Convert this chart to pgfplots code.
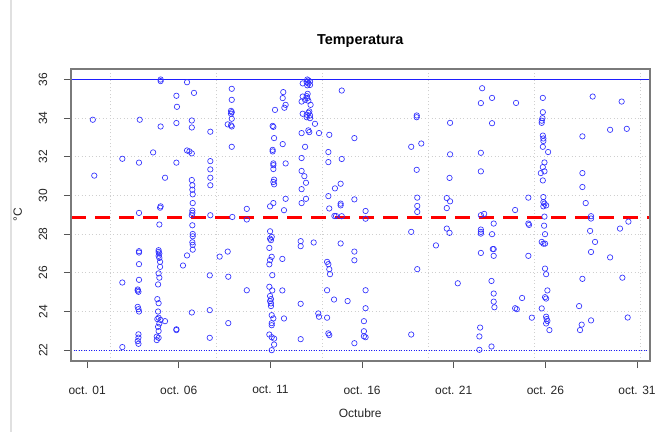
\documentclass[border=0pt]{standalone}
\usepackage{pgfplots}
\pgfplotsset{compat=1.18}
\usepackage{fontspec}
\setmainfont{Liberation Sans}
\definecolor{boxgray}{HTML}{7A7A7A}
\definecolor{tickgray}{HTML}{555555}
\definecolor{gridgray}{HTML}{CFCFCF}
\definecolor{ptblue}{HTML}{3030FF}
\definecolor{lineblue}{HTML}{1E1EFF}

\pgfplotstableread{
x y
1.31 33.92
1.39 31.03
2.92 31.90
2.92 25.50
2.92 22.16
3.87 33.92
3.83 31.70
3.83 29.10
3.83 27.12
3.83 27.05
3.83 26.45
3.83 25.64
3.76 25.14
3.80 25.02
3.76 25.08
3.76 24.24
3.80 24.12
3.83 24.00
3.80 22.82
3.80 22.65
3.76 22.47
3.80 22.33
4.60 32.23
5.01 36.00
5.01 35.92
5.01 33.57
5.25 30.92
5.01 29.44
4.98 29.37
4.94 28.50
4.90 27.17
4.90 27.08
4.94 27.00
4.90 26.88
4.94 26.77
4.98 26.57
4.98 26.31
4.90 25.97
4.94 25.75
4.87 25.40
4.83 24.64
4.90 24.43
4.87 24.00
4.90 23.68
4.83 23.61
5.01 23.56
4.94 23.38
5.25 23.50
4.87 23.21
4.90 22.99
4.80 22.70
4.90 22.64
4.80 22.52
5.87 35.16
5.90 34.59
5.87 33.75
5.87 31.70
5.87 23.08
5.87 23.04
6.45 35.86
6.83 35.31
6.45 32.33
6.58 32.28
6.71 32.18
6.71 33.88
6.71 33.52
6.71 30.80
6.74 30.53
6.74 30.30
6.76 30.06
6.76 29.61
6.74 29.22
6.74 29.10
6.71 28.98
6.74 28.46
6.76 28.01
6.76 27.89
6.74 27.58
6.76 27.45
6.76 27.20
6.45 26.90
6.23 26.38
6.71 23.95
7.72 33.30
7.72 31.78
7.72 31.35
7.72 30.92
7.72 30.53
7.72 28.98
7.69 25.87
7.69 24.07
7.69 22.64
8.23 26.84
8.89 35.52
8.89 34.95
8.85 34.38
8.89 34.31
8.85 34.23
8.89 33.97
8.67 33.68
8.85 33.63
8.89 33.57
8.89 32.52
8.67 27.10
8.70 25.80
8.70 23.40
8.92 28.89
9.71 29.31
9.71 28.76
9.71 25.10
11.25 34.43
11.12 33.60
11.16 33.55
11.20 32.97
11.12 32.36
11.12 32.28
11.16 31.66
11.16 31.57
11.16 31.37
11.20 30.82
11.16 30.70
11.20 30.58
11.16 29.61
10.98 29.44
10.98 28.15
11.07 27.86
10.98 27.77
11.03 27.69
10.94 27.29
11.07 26.83
10.98 26.66
10.94 26.44
11.10 25.88
10.94 25.28
11.10 25.09
10.98 24.80
11.03 24.64
10.98 24.54
11.03 24.42
11.03 24.28
11.07 23.81
11.16 23.64
11.07 23.40
11.07 23.29
10.94 22.81
11.07 22.67
11.20 22.60
11.20 22.29
11.07 22.00
11.70 35.35
11.67 35.04
11.83 34.69
11.76 34.54
11.67 32.66
11.83 31.66
11.83 29.83
11.74 29.24
11.65 26.72
11.65 25.09
11.74 23.64
13.01 36.00
13.07 35.95
12.98 35.86
13.16 35.90
13.07 35.80
12.76 35.80
13.01 35.70
13.16 35.72
13.03 35.26
12.98 35.14
12.76 35.12
13.01 35.04
12.89 34.95
12.70 34.86
13.07 34.90
13.19 34.69
13.12 34.35
13.07 34.28
12.76 34.23
12.98 34.18
13.16 34.14
12.98 34.05
13.16 34.00
13.43 33.71
13.07 33.37
13.12 33.28
12.70 33.23
13.65 33.23
12.89 32.52
12.70 31.94
12.70 31.27
12.85 31.00
12.94 30.66
12.70 30.33
12.94 29.83
12.70 29.61
12.65 27.64
12.65 27.38
13.36 27.57
12.65 24.40
12.65 22.57
14.21 33.14
14.16 32.25
14.16 31.73
14.52 30.37
14.16 29.97
14.21 29.33
14.49 28.94
14.58 28.94
14.09 26.57
14.16 26.45
14.21 26.19
14.25 25.93
14.09 25.10
14.47 24.62
13.61 23.90
13.65 23.73
14.09 23.68
14.16 22.87
14.21 22.78
14.89 35.43
14.89 31.89
14.83 30.61
14.83 29.58
14.83 29.49
14.89 28.93
14.83 27.52
15.21 24.54
15.58 32.97
15.58 29.80
15.58 27.10
15.58 26.65
15.58 22.36
16.19 29.20
16.19 28.80
16.19 25.10
16.19 24.17
16.10 23.50
16.10 22.98
16.10 22.72
16.19 22.67
18.98 34.14
18.98 34.05
18.68 32.52
19.23 32.69
18.98 31.33
19.01 29.89
19.01 29.46
19.01 29.15
18.68 28.12
19.01 26.19
18.68 22.81
20.03 27.42
20.80 33.76
20.80 32.13
20.77 30.91
20.62 29.87
20.80 29.70
20.62 29.35
20.62 28.29
20.77 28.07
21.22 25.46
22.55 35.55
22.48 34.78
22.48 32.21
22.48 31.25
22.48 28.98
22.66 29.05
22.48 28.24
22.48 28.12
22.48 28.03
22.48 27.03
22.44 23.17
22.40 22.71
22.40 22.02
23.09 35.05
23.09 33.74
23.18 28.55
23.09 28.00
23.13 27.23
23.18 27.23
23.18 26.88
23.06 25.58
23.18 24.93
23.18 24.51
23.22 24.22
23.06 22.19
24.40 34.79
24.35 29.25
24.73 24.70
24.35 24.17
24.44 24.12
25.07 29.89
25.07 28.55
25.11 28.48
25.07 26.88
25.26 23.68
25.86 35.05
25.86 34.31
25.84 34.00
25.80 33.87
25.80 33.76
25.86 33.10
25.89 32.95
25.89 32.82
25.86 32.52
26.15 32.25
25.95 31.71
25.86 31.47
25.95 31.25
25.75 31.16
25.86 30.78
25.89 29.92
25.89 29.66
25.95 29.58
26.04 29.49
25.89 29.44
25.95 28.91
25.93 28.44
25.98 28.00
25.80 27.60
25.89 27.51
25.98 27.51
25.98 26.22
26.04 25.93
26.11 25.09
25.98 24.74
26.04 24.67
25.80 24.16
26.04 23.73
26.07 23.61
26.11 23.51
26.04 23.38
26.22 23.04
28.02 33.06
28.02 31.16
28.02 30.44
28.20 29.61
28.49 28.93
28.49 28.81
28.44 28.17
28.71 27.60
28.49 27.08
28.02 25.69
27.84 24.28
27.98 23.32
27.89 23.04
28.49 23.54
28.58 35.12
30.16 34.86
29.53 33.40
30.44 33.45
30.53 28.65
30.07 28.29
29.53 26.80
30.20 25.75
30.49 23.69
}\temps

\begin{document}
\begin{tikzpicture}
\path[use as bounding box] (-71bp,-71bp) rectangle (600bp,361bp);
\fill[white] (-71bp,-71bp) rectangle (600bp,361bp);
\draw[black!12, line width=2.5bp] (-60bp,-71bp) -- (-60bp,361bp);
\begin{axis}[
  at={(0,0)}, anchor=south west,
  scale only axis, width=578.5bp, height=292.3bp,
  xmin=0.12, xmax=31.68, ymin=21.44, ymax=36.56,
  xtick={1,6,11,16,21,26,31},
  xticklabels={oct. 01,oct. 06,oct. 11,oct. 16,oct. 21,oct. 26,oct. 31},
  ytick={22,24,26,28,30,32,34,36},
  yticklabels={22,24,26,28,30,32,34,36},
  ymajorgrids,
  grid style={gridgray, dash pattern=on 1bp off 2.5bp, line width=0.8bp},
  extra x ticks={2.26,8.05,13.83,19.62,25.40,31.19},
  extra x tick labels={},
  extra x tick style={grid=major, major tick length=0pt},
  xtick pos=left, ytick pos=left,
  tick align=outside, major tick length=7.2bp,
  tick label style={font=\fontsize{12bp}{14bp}\selectfont, text=black!85},
  yticklabel style={rotate=90, anchor=south},
  xticklabel style={anchor=north},
  xticklabel shift=14bp, yticklabel shift=13bp,
  axis line style={draw=boxgray, line width=2bp},
  tick style={draw=tickgray, line width=0.9bp},
]
\addplot[only marks, mark=o, mark size=2.7bp, ptblue, mark options={line width=0.65bp}] table {\temps};
\addplot[lineblue, line width=1.1bp] coordinates {(0.12,36) (31.68,36)};
\addplot[lineblue, line width=0.8bp, dash pattern=on 1bp off 1.5bp] coordinates {(0.12,22) (31.68,22)};
\addplot[red, line width=3bp, dash pattern=on 15bp off 9bp] coordinates {(0.12,28.85) (31.68,28.85)};
\end{axis}
\draw[boxgray, line width=2bp] (0,0) rectangle (578.5bp,292.3bp);
\node[font=\bfseries\fontsize{14.4bp}{17bp}\selectfont, anchor=base] at (289.25bp,316bp) {Temperatura};
\node[font=\fontsize{12bp}{14bp}\selectfont, anchor=base, text=black!85] at (289.25bp,-56bp) {Octubre};
\node[font=\fontsize{12bp}{14bp}\selectfont, anchor=base, rotate=90, text=black!85] at (-49bp,146bp) {°C};
\end{tikzpicture}
\end{document}
